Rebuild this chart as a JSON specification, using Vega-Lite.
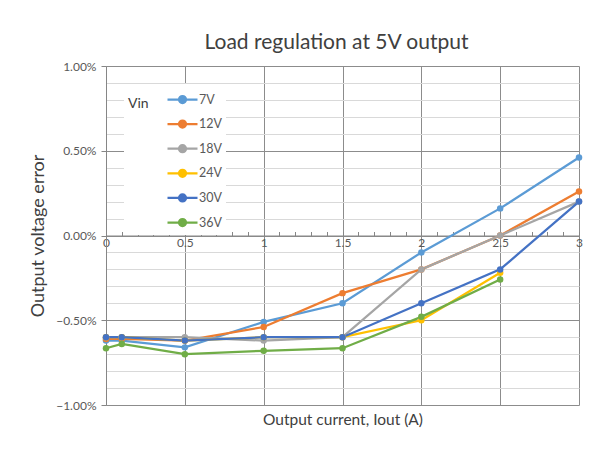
{
  "$schema": "https://vega.github.io/schema/vega-lite/v6.json",
  "autosize": {"type": "none"},
  "padding": {"left": 106, "top": 66, "right": 34, "bottom": 52},
  "width": 473,
  "height": 339,
  "background": "white",
  "title": {"text": "Load regulation at 5V output", "fontSize": 21, "font": "Lato", "fontWeight": "normal", "color": "#404040", "offset": 7, "dx": -6},
  "config": {"view": {"stroke": null}, "font": "Lato"},
  "data": {"values": [
    {"I": 0, "V": "7V", "e": -0.62}, {"I": 0.1, "V": "7V", "e": -0.62}, {"I": 0.5, "V": "7V", "e": -0.66}, {"I": 1, "V": "7V", "e": -0.51}, {"I": 1.5, "V": "7V", "e": -0.40}, {"I": 2, "V": "7V", "e": -0.10}, {"I": 2.5, "V": "7V", "e": 0.16}, {"I": 3, "V": "7V", "e": 0.46},
    {"I": 0, "V": "12V", "e": -0.61}, {"I": 0.1, "V": "12V", "e": -0.61}, {"I": 0.5, "V": "12V", "e": -0.62}, {"I": 1, "V": "12V", "e": -0.54}, {"I": 1.5, "V": "12V", "e": -0.34}, {"I": 2, "V": "12V", "e": -0.20}, {"I": 2.5, "V": "12V", "e": 0.0}, {"I": 3, "V": "12V", "e": 0.26},
    {"I": 0, "V": "18V", "e": -0.60}, {"I": 0.1, "V": "18V", "e": -0.60}, {"I": 0.5, "V": "18V", "e": -0.60}, {"I": 1, "V": "18V", "e": -0.62}, {"I": 1.5, "V": "18V", "e": -0.60}, {"I": 2, "V": "18V", "e": -0.20}, {"I": 2.5, "V": "18V", "e": 0.0}, {"I": 3, "V": "18V", "e": 0.20},
    {"I": 0, "V": "24V", "e": -0.60}, {"I": 0.1, "V": "24V", "e": -0.60}, {"I": 0.5, "V": "24V", "e": -0.62}, {"I": 1, "V": "24V", "e": -0.60}, {"I": 1.5, "V": "24V", "e": -0.60}, {"I": 2, "V": "24V", "e": -0.50}, {"I": 2.5, "V": "24V", "e": -0.22},
    {"I": 0, "V": "30V", "e": -0.60}, {"I": 0.1, "V": "30V", "e": -0.60}, {"I": 0.5, "V": "30V", "e": -0.62}, {"I": 1, "V": "30V", "e": -0.60}, {"I": 1.5, "V": "30V", "e": -0.60}, {"I": 2, "V": "30V", "e": -0.40}, {"I": 2.5, "V": "30V", "e": -0.20}, {"I": 3, "V": "30V", "e": 0.20},
    {"I": 0, "V": "36V", "e": -0.665}, {"I": 0.1, "V": "36V", "e": -0.64}, {"I": 0.5, "V": "36V", "e": -0.70}, {"I": 1, "V": "36V", "e": -0.68}, {"I": 1.5, "V": "36V", "e": -0.665}, {"I": 2, "V": "36V", "e": -0.48}, {"I": 2.5, "V": "36V", "e": -0.26}
  ]},
  "mark": {"type": "line", "strokeWidth": 2.25, "point": {"filled": true, "size": 42, "opacity": 1}},
  "encoding": {
    "x": {
      "field": "I", "type": "quantitative",
      "scale": {"domain": [0, 3], "nice": false, "zero": false},
      "axis": {
        "title": "Output current, Iout (A)",
        "titleFont": "Lato", "titleFontSize": 15.5, "titleFontWeight": "normal", "titleColor": "#404040",
        "titlePadding": 164,
        "offset": -169.5,
        "values": [0, 0.1, 0.2, 0.3, 0.4, 0.5, 0.6, 0.7, 0.8, 0.9, 1, 1.1, 1.2, 1.3, 1.4, 1.5, 1.6, 1.7, 1.8, 1.9, 2, 2.1, 2.2, 2.3, 2.4, 2.5, 2.6, 2.7, 2.8, 2.9, 3],
        "labelExpr": "abs(datum.value*2 - round(datum.value*2)) < 0.01 ? format(datum.value, '~g') : ''",
        "labelFont": "Lato", "labelFontSize": 12, "labelColor": "#595959", "labelPadding": 6,
        "labelFlush": false, "labelOverlap": false,
        "domainColor": "#868686", "domainWidth": 1,
        "tickColor": "#868686", "tickSize": -4, "tickWidth": 1,
        "grid": true,
        "gridColor": {"condition": {"test": "abs(datum.value*2 - round(datum.value*2)) < 0.01", "value": "#8c8c8c"}, "value": "transparent"},
        "gridWidth": 1
      }
    },
    "y": {
      "field": "e", "type": "quantitative",
      "scale": {"domain": [-1, 1], "nice": false, "zero": false},
      "axis": {
        "title": "Output voltage error",
        "titleFont": "Lato", "titleFontSize": 18, "titleFontWeight": "normal", "titleColor": "#404040",
        "titlePadding": 8,
        "values": [-1, -0.9, -0.8, -0.7, -0.6, -0.5, -0.4, -0.3, -0.2, -0.1, 0, 0.1, 0.2, 0.3, 0.4, 0.5, 0.6, 0.7, 0.8, 0.9, 1],
        "labelExpr": "abs(datum.value*2 - round(datum.value*2)) < 0.01 ? format(datum.value, '.2f') + '%' : ''",
        "labelFont": "Lato", "labelFontSize": 12, "labelColor": "#595959", "labelPadding": 5,
        "labelOverlap": false,
        "domainColor": "#868686",
        "tickSize": 5,
        "tickColor": {"condition": {"test": "abs(datum.value*2 - round(datum.value*2)) < 0.01", "value": "#868686"}, "value": "transparent"},
        "grid": true,
        "gridColor": {"condition": {"test": "abs(datum.value*2 - round(datum.value*2)) < 0.01", "value": "#8c8c8c"}, "value": "#d9d9d9"},
        "gridWidth": 1
      }
    },
    "color": {
      "field": "V", "type": "nominal",
      "scale": {"domain": ["7V", "12V", "18V", "24V", "30V", "36V"], "range": ["#5B9BD5", "#ED7D31", "#A5A5A5", "#FFC000", "#4472C4", "#70AD47"]},
      "legend": {
        "title": "Vin",
        "orient": "none", "legendX": 18, "legendY": 18,
        "fillColor": "white", "padding": 4,
        "titleOrient": "left", "titleAnchor": "start", "titleBaseline": "top", "titlePadding": 22,
        "titleFont": "Lato", "titleFontSize": 14, "titleFontWeight": "normal", "titleColor": "#404040",
        "labelFont": "Lato", "labelFontSize": 12.5, "labelColor": "#595959", "labelOffset": 5,
        "rowPadding": 4.6,
        "symbolSize": 400,
        "symbolType": "M-1.5,0H1.5M0.35,0A0.35,0.35 0 1,1 -0.35,0A0.35,0.35 0 1,1 0.35,0Z",
        "symbolStrokeWidth": 2.25,
        "encode": {
          "title": {"update": {"dy": {"value": 9}}},
          "symbols": {"update": {"fill": {"scale": "color", "field": "value"}, "stroke": {"scale": "color", "field": "value"}, "opacity": {"value": 1}}}
        }
      }
    }
  }
}
